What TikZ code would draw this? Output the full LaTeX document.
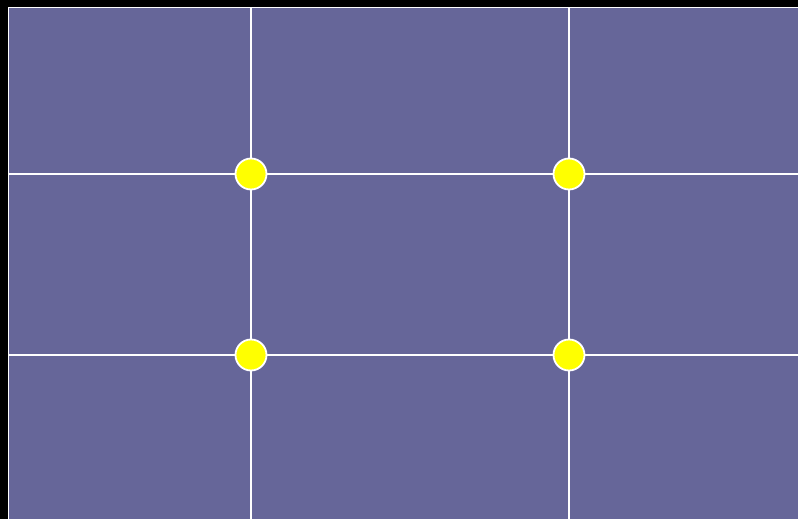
\documentclass[tikz,border=0pt]{standalone}
\definecolor{bgpurple}{HTML}{666699}
\definecolor{dotyellow}{HTML}{FFFF00}
\tikzset{
  grid line/.style={draw=white, line width=1.5pt},
  dot/.style={circle, fill=dotyellow, draw=white, line width=1.8pt, minimum size=31pt, inner sep=0pt}
}
\begin{document}
\begin{tikzpicture}[x=1pt,y=-1pt]
\fill[black] (0,0) rectangle (798,519);
\useasboundingbox (0,0) rectangle (798,519);
\fill[bgpurple] (8.5,7.5) rectangle (800,521);
\draw[grid line] (8.5,530) -- (8.5,7.5) -- (810,7.5);
\coordinate (v1t) at (251,7.5);
\coordinate (v1b) at (251,530);
\coordinate (v2t) at (569,7.5);
\coordinate (v2b) at (569,530);
\coordinate (h1l) at (8.5,174);
\coordinate (h1r) at (810,174);
\coordinate (h2l) at (8.5,355);
\coordinate (h2r) at (810,355);
\draw[grid line] (v1t) -- (v1b);
\draw[grid line] (v2t) -- (v2b);
\draw[grid line] (h1l) -- (h1r);
\draw[grid line] (h2l) -- (h2r);
\node[dot] (d1) at (251,174) {};
\node[dot] (d2) at (569,174) {};
\node[dot] (d3) at (251,355) {};
\node[dot] (d4) at (569,355) {};
\end{tikzpicture}
\end{document}
